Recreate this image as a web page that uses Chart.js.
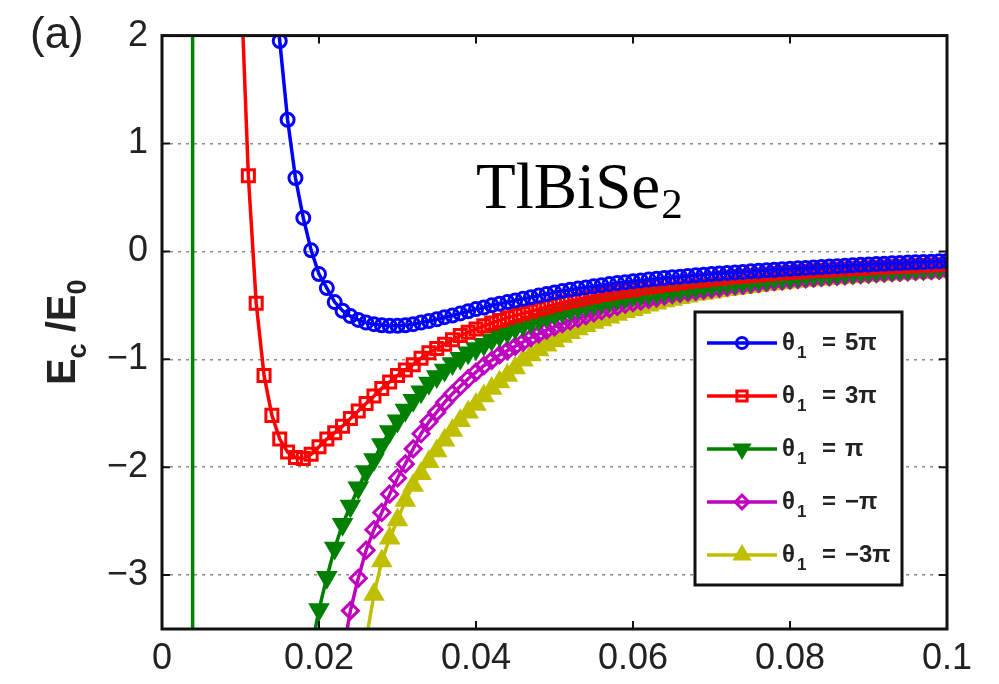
<!DOCTYPE html>
<html>
<head>
<meta charset="utf-8">
<script src="https://cdn.jsdelivr.net/npm/chart.js@4.4.0/dist/chart.umd.min.js"></script>
<style>
  html, body { margin: 0; padding: 0; background: #fff; }
  #wrap { width: 999px; height: 684px; }
</style>
</head>
<body>
<div id="wrap"><canvas id="Ec_chart" width="999" height="684"></canvas></div>
<script>
// d (x axis) sample points, shared by all five curves
const xVals = [
  0.010, 0.011, 0.012, 0.013, 0.014, 0.015, 0.016, 0.017, 0.018, 0.019,
  0.020, 0.021, 0.022, 0.023, 0.024, 0.025, 0.026, 0.027, 0.028, 0.029,
  0.030, 0.031, 0.032, 0.033, 0.034, 0.035, 0.036, 0.037, 0.038, 0.039,
  0.040, 0.041, 0.042, 0.043, 0.044, 0.045, 0.046, 0.047, 0.048, 0.049,
  0.050, 0.051, 0.052, 0.053, 0.054, 0.055, 0.056, 0.057, 0.058, 0.059,
  0.060, 0.061, 0.062, 0.063, 0.064, 0.065, 0.066, 0.067, 0.068, 0.069,
  0.070, 0.071, 0.072, 0.073, 0.074, 0.075, 0.076, 0.077, 0.078, 0.079,
  0.080, 0.081, 0.082, 0.083, 0.084, 0.085, 0.086, 0.087, 0.088, 0.089,
  0.090, 0.091, 0.092, 0.093, 0.094, 0.095, 0.096, 0.097, 0.098, 0.099,
  0.100
];

// Ec/E0 for theta1 = 5pi
const theta5pi = [
  null, null, null, null, 2.6, 1.95, 1.22, 0.68, 0.31, 0.01,
  -0.21, -0.34, -0.47, -0.55, -0.60, -0.635, -0.66, -0.675, -0.685, -0.69,
  -0.69, -0.685, -0.675, -0.66, -0.645, -0.63, -0.61, -0.595, -0.575, -0.555,
  -0.535, -0.52, -0.50, -0.485, -0.47, -0.455, -0.44, -0.425, -0.41, -0.395,
  -0.38, -0.368, -0.356, -0.345, -0.334, -0.323, -0.313, -0.303, -0.294, -0.285,
  -0.277, -0.269, -0.261, -0.254, -0.247, -0.24, -0.234, -0.228, -0.222, -0.216,
  -0.21, -0.205, -0.2, -0.195, -0.19, -0.185, -0.18, -0.175, -0.17, -0.165,
  -0.161, -0.157, -0.153, -0.149, -0.145, -0.141, -0.137, -0.133, -0.129, -0.125,
  -0.122, -0.118, -0.115, -0.111, -0.108, -0.104, -0.101, -0.098, -0.095, -0.092,
  -0.089
];

// theta1 = 3pi
const theta3pi = [
  2.6, 0.70, -0.48, -1.15, -1.52, -1.74, -1.86, -1.91, -1.92, -1.88,
  -1.81, -1.74, -1.68, -1.62, -1.55, -1.48, -1.41, -1.34, -1.27, -1.21,
  -1.15, -1.10, -1.05, -0.99, -0.94, -0.90, -0.86, -0.82, -0.78, -0.75,
  -0.72, -0.69, -0.665, -0.64, -0.615, -0.595, -0.575, -0.555, -0.535, -0.515,
  -0.495, -0.475, -0.46, -0.445, -0.43, -0.415, -0.40, -0.39, -0.375, -0.365,
  -0.355, -0.34, -0.33, -0.32, -0.31, -0.30, -0.29, -0.28, -0.272, -0.265,
  -0.257, -0.25, -0.243, -0.236, -0.23, -0.224, -0.218, -0.212, -0.206, -0.2,
  -0.195, -0.19, -0.185, -0.18, -0.176, -0.172, -0.168, -0.164, -0.16, -0.156,
  -0.152, -0.148, -0.145, -0.142, -0.139, -0.136, -0.133, -0.13, -0.127, -0.124,
  -0.121
];

// theta1 = pi (plus the vertical jump near d = 0.0039)
const poleX = [0.0039, 0.0039];
const poleY = [60, -60];
const thetaPi = [
  null, null, null, null, null, null, null, null, null, -3.7,
  -3.32, -3.02, -2.75, -2.53, -2.36, -2.19, -2.04, -1.93, -1.79, -1.67,
  -1.57, -1.47, -1.38, -1.30, -1.22, -1.16, -1.10, -1.04, -0.99, -0.94,
  -0.90, -0.86, -0.82, -0.78, -0.75, -0.71, -0.68, -0.655, -0.63, -0.60,
  -0.58, -0.56, -0.54, -0.52, -0.50, -0.485, -0.47, -0.455, -0.44, -0.425,
  -0.41, -0.40, -0.39, -0.38, -0.37, -0.36, -0.35, -0.34, -0.33, -0.32,
  -0.31, -0.30, -0.29, -0.285, -0.275, -0.27, -0.26, -0.255, -0.245, -0.24,
  -0.235, -0.225, -0.22, -0.215, -0.21, -0.205, -0.20, -0.195, -0.19, -0.185,
  -0.18, -0.175, -0.17, -0.167, -0.163, -0.16, -0.155, -0.152, -0.148, -0.145,
  -0.142
];

// theta1 = -pi
const thetaMinusPi = [
  null, null, null, null, null, null, null, null, null, null,
  null, null, null, -3.75, -3.33, -3.03, -2.77, -2.58, -2.42, -2.25,
  -2.10, -1.97, -1.83, -1.69, -1.58, -1.49, -1.40, -1.32, -1.25, -1.18,
  -1.12, -1.06, -1.01, -0.96, -0.92, -0.88, -0.84, -0.80, -0.765, -0.73,
  -0.70, -0.67, -0.645, -0.62, -0.595, -0.57, -0.55, -0.53, -0.51, -0.49,
  -0.475, -0.46, -0.445, -0.43, -0.415, -0.40, -0.39, -0.38, -0.37, -0.36,
  -0.35, -0.34, -0.33, -0.32, -0.312, -0.304, -0.296, -0.288, -0.28, -0.273,
  -0.266, -0.26, -0.254, -0.248, -0.242, -0.236, -0.231, -0.226, -0.221, -0.216,
  -0.211, -0.206, -0.202, -0.198, -0.194, -0.19, -0.186, -0.182, -0.178, -0.175,
  -0.172
];

// theta1 = -3pi
const thetaMinus3pi = [
  null, null, null, null, null, null, null, null, null, null,
  null, null, null, null, null, null, -3.6, -3.18, -2.87, -2.66,
  -2.49, -2.31, -2.17, -2.06, -1.95, -1.85, -1.75, -1.66, -1.57, -1.49,
  -1.42, -1.34, -1.27, -1.21, -1.15, -1.08, -1.01, -0.96, -0.915, -0.87,
  -0.83, -0.79, -0.755, -0.72, -0.69, -0.66, -0.635, -0.61, -0.585, -0.56,
  -0.54, -0.52, -0.50, -0.48, -0.46, -0.445, -0.43, -0.415, -0.40, -0.39,
  -0.378, -0.367, -0.356, -0.346, -0.336, -0.327, -0.318, -0.31, -0.302, -0.294,
  -0.287, -0.28, -0.273, -0.266, -0.26, -0.254, -0.248, -0.242, -0.237, -0.232,
  -0.227, -0.222, -0.217, -0.213, -0.209, -0.205, -0.201, -0.197, -0.193, -0.19,
  -0.187
];

const thetaLabels = ['5π', '3π', 'π', '−π', '−3π'];
const xTicks = [0, 0.02, 0.04, 0.06, 0.08, 0.1];
const yTicks = [-3, -2, -1, 0, 1, 2];

const seriesStyle = [
  { color: '#0000ff', marker: 'circle',   rot: 0,   r: 6.5, filled: false },
  { color: '#ff0000', marker: 'rect',     rot: 0,   r: 8.5, filled: false },
  { color: '#008000', marker: 'triangle', rot: 180, r: 9.5, filled: true },
  { color: '#c000c0', marker: 'rectRot',  rot: 0,   r: 8,   filled: false },
  { color: '#bfbf00', marker: 'triangle', rot: 0,   r: 9.5, filled: true }
];

const Ec_chart = document.getElementById('Ec_chart');

function toPoints(ys) {
  return xVals.map((x, i) => ({ x: x, y: ys[i] }));
}

const seriesPoints = [
  toPoints(theta5pi),
  toPoints(theta3pi),
  poleX.map((x, i) => ({ x: x, y: poleY[i] })).concat(toPoints(thetaPi)),
  toPoints(thetaMinusPi),
  toPoints(thetaMinus3pi)
];

const datasets = seriesPoints.map((pts, i) => {
  const st = seriesStyle[i];
  return {
    label: 'θ₁ = ' + thetaLabels[i],
    data: pts,
    borderColor: st.color,
    backgroundColor: st.filled ? st.color : 'rgba(0,0,0,0)',
    borderWidth: 3.5,
    pointStyle: st.marker,
    pointRotation: st.rot,
    pointRadius: st.r,
    pointBorderWidth: 3,
    pointBorderColor: st.color,
    pointBackgroundColor: st.filled ? st.color : 'rgba(0,0,0,0)',
    tension: 0,
    spanGaps: false,
    clip: 0
  };
});

const tickFont = { family: '"Liberation Sans", Arial, sans-serif', size: 36 };

function minusText(v) {
  return v < 0 ? '\u2212' + Math.abs(v) : String(v);
}

// box, inward ticks, legend and the free text
const frame_plugin = {
  id: 'frame_plugin',
  afterDraw(chart) {
    const ctx = chart.ctx;
    const a = chart.chartArea;
    const xs = chart.scales.x;
    const ys = chart.scales.y;
    ctx.save();

    // inward tick marks
    ctx.strokeStyle = '#111';
    ctx.lineWidth = 2;
    ctx.beginPath();
    xTicks.forEach(v => {
      const px = xs.getPixelForValue(v);
      ctx.moveTo(px, a.bottom); ctx.lineTo(px, a.bottom - 8);
      ctx.moveTo(px, a.top); ctx.lineTo(px, a.top + 8);
    });
    yTicks.forEach(v => {
      const py = ys.getPixelForValue(v);
      ctx.moveTo(a.left, py); ctx.lineTo(a.left + 8, py);
      ctx.moveTo(a.right, py); ctx.lineTo(a.right - 8, py);
    });
    ctx.stroke();

    // axes box
    ctx.lineWidth = 3;
    ctx.strokeRect(a.left, a.top, a.right - a.left, a.bottom - a.top);

    // legend
    const bx = a.right - 252, by = a.bottom - 317, bw = 207, bh = 273;
    ctx.fillStyle = '#fff';
    ctx.fillRect(bx, by, bw, bh);
    ctx.lineWidth = 3;
    ctx.strokeStyle = '#111';
    ctx.strokeRect(bx, by, bw, bh);
    seriesStyle.forEach((st, i) => {
      const ly = by + 31 + 53 * i;
      ctx.strokeStyle = st.color;
      ctx.lineWidth = 3.5;
      ctx.beginPath();
      ctx.moveTo(bx + 12, ly); ctx.lineTo(bx + 82, ly);
      ctx.stroke();
      ctx.fillStyle = st.filled ? st.color : 'rgba(0,0,0,0)';
      ctx.lineWidth = 3;
      Chart.helpers.drawPoint(ctx, { pointStyle: st.marker, rotation: st.rot, radius: st.r * 0.85, borderWidth: 3 }, bx + 47, ly);

      ctx.fillStyle = '#222';
      ctx.textBaseline = 'middle';
      ctx.textAlign = 'left';
      ctx.font = 'bold 24px "Liberation Sans", Arial, sans-serif';
      ctx.fillText('θ', bx + 87, ly);
      const tw = ctx.measureText('θ').width;
      ctx.font = 'bold 17px "Liberation Sans", Arial, sans-serif';
      ctx.fillText('1', bx + 89 + tw, ly + 10);
      ctx.font = 'bold 24px "Liberation Sans", Arial, sans-serif';
      ctx.fillText('=', bx + 127, ly);
      ctx.fillText(thetaLabels[i], bx + 150, ly);
    });

    // panel letter
    ctx.fillStyle = '#222';
    ctx.textBaseline = 'alphabetic';
    ctx.font = '44px "Liberation Sans", Arial, sans-serif';
    ctx.fillText('(a)', 30, 48);

    // material label
    ctx.fillStyle = '#000';
    ctx.font = '65px "Liberation Serif", "Times New Roman", serif';
    ctx.fillText('TlBiSe', 476, 208);
    const mw = ctx.measureText('TlBiSe').width;
    ctx.font = '43px "Liberation Serif", "Times New Roman", serif';
    ctx.fillText('2', 476 + mw + 1, 218);

    // y axis title  Ec /E0
    const parts = [
      { t: 'E', f: 'bold 40px "Liberation Sans", Arial, sans-serif', dy: 0 },
      { t: 'c', f: 'bold 27px "Liberation Sans", Arial, sans-serif', dy: 11 },
      { t: ' /E', f: 'bold 40px "Liberation Sans", Arial, sans-serif', dy: 0 },
      { t: '0', f: 'bold 27px "Liberation Sans", Arial, sans-serif', dy: 11 }
    ];
    let total = 0;
    parts.forEach(p => { ctx.font = p.f; p.w = ctx.measureText(p.t).width; total += p.w; });
    ctx.translate(75, (a.top + a.bottom) / 2);
    ctx.rotate(-Math.PI / 2);
    ctx.fillStyle = '#222';
    let cx = -total / 2;
    parts.forEach(p => { ctx.font = p.f; ctx.fillText(p.t, cx, p.dy); cx += p.w; });

    ctx.restore();
  }
};

function line_Chart() {
  new Chart(Ec_chart, {
    type: 'line',
    data: { datasets: datasets },
    options: {
      responsive: false,
      animation: false,
      devicePixelRatio: 1,
      layout: { padding: { top: 31, right: 52, left: 0, bottom: 0 } },
      plugins: {
        legend: { display: false },
        tooltip: { enabled: false }
      },
      scales: {
        x: {
          type: 'linear',
          min: 0,
          max: 0.1,
          afterFit: s => { s.height = 55; },
          afterBuildTicks: s => { s.ticks = xTicks.map(v => ({ value: v })); },
          grid: { display: false, drawTicks: false },
          border: { display: false },
          ticks: {
            font: tickFont,
            color: '#222',
            padding: 8,
            maxRotation: 0,
            autoSkip: false,
            callback: v => String(+v.toFixed(2))
          }
        },
        y: {
          type: 'linear',
          min: -3.5,
          max: 2,
          afterFit: s => { s.width = 162; },
          afterBuildTicks: s => { s.ticks = yTicks.map(v => ({ value: v })); },
          grid: {
            drawTicks: false,
            lineWidth: 1.5,
            color: c => (c.tick && c.tick.value === 2) ? 'rgba(0,0,0,0)' : '#8c8c8c'
          },
          border: { display: false, dash: [3, 5] },
          ticks: {
            font: tickFont,
            color: '#222',
            padding: 14,
            autoSkip: false,
            callback: v => minusText(v)
          }
        }
      }
    },
    plugins: [frame_plugin]
  });
}
line_Chart()
</script>
</body>
</html>
